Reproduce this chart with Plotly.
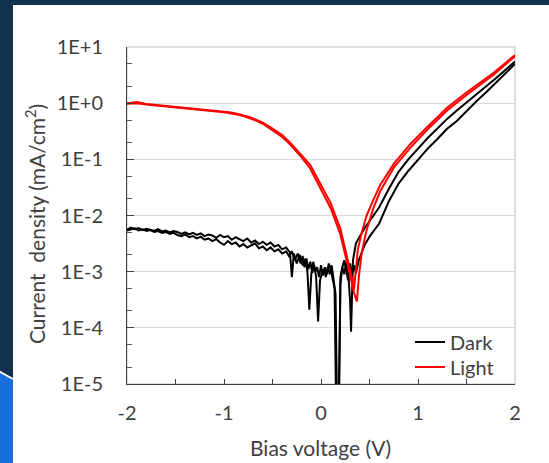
import plotly.graph_objects as go

# ---------------- data ----------------
# Dark current, sweep A
V_DARK_A = [-2.00, -1.96, -1.92, -1.88, -1.84, -1.80, -1.76, -1.72, -1.68, -1.64,
            -1.60, -1.56, -1.52, -1.48, -1.44, -1.40, -1.36, -1.32, -1.28, -1.24,
            -1.20, -1.16, -1.12, -1.08, -1.04, -1.00, -0.96, -0.92, -0.88, -0.84,
            -0.80, -0.76, -0.72, -0.68, -0.64, -0.60, -0.56, -0.52, -0.48, -0.44,
            -0.40, -0.36, -0.32,
            -0.30, -0.28, -0.25, -0.22, -0.19,
            -0.16, -0.14, -0.12, -0.10, -0.08, -0.06, -0.04, -0.02, 0.00, 0.02,
            0.04, 0.06, 0.08, 0.10, 0.12, 0.14, 0.16, 0.18, 0.20, 0.22,
            0.24, 0.26, 0.28, 0.30, 0.31, 0.33, 0.36, 0.40, 0.45, 0.50,
            0.55, 0.60, 0.70, 0.80, 0.90, 1.00, 1.10, 1.20, 1.30, 1.40,
            1.50, 1.60, 1.70, 1.80, 1.90, 2.00]
J_DARK_A = [5.6e-3, 6.1e-3, 5.7e-3, 6.0e-3, 5.5e-3, 5.8e-3, 5.6e-3, 5.3e-3, 5.7e-3, 5.2e-3,
            5.4e-3, 5.0e-3, 5.3e-3, 5.1e-3, 4.7e-3, 5.0e-3, 4.6e-3, 4.9e-3, 4.5e-3, 4.8e-3,
            4.3e-3, 4.6e-3, 4.4e-3, 4.0e-3, 4.5e-3, 4.1e-3, 4.3e-3, 3.7e-3, 4.1e-3, 3.8e-3,
            3.5e-3, 3.9e-3, 3.3e-3, 3.6e-3, 3.1e-3, 3.4e-3, 3.0e-3, 3.3e-3, 2.8e-3, 3.0e-3,
            2.5e-3, 2.7e-3, 2.2e-3,
            8.0e-4, 2.1e-3, 1.4e-3, 2.0e-3, 1.3e-3,
            1.7e-3, 1.0e-3, 2.1e-4, 9.0e-4, 1.5e-3, 1.0e-3, 1.2e-3, 8.0e-4, 1.3e-3, 8.5e-4,
            1.2e-3, 9.0e-4, 1.4e-3, 1.1e-3, 7.0e-4, 5.0e-4, 1.0e-6, 1.0e-6, 8.0e-4, 1.2e-3,
            9.0e-4, 1.5e-3, 1.0e-3, 3.0e-4, 8.5e-5, 1.6e-3, 3.2e-3, 4.3e-3, 6.0e-3, 7.9e-3,
            1.05e-2, 1.4e-2, 3.0e-2, 6.0e-2, 1.0e-1, 1.55e-1, 2.4e-1, 3.55e-1, 5.25e-1, 7.4e-1,
            1.02, 1.41, 1.95, 2.75, 3.9, 5.5]

# Dark current, sweep B
V_DARK_B = [-2.00, -1.96, -1.92, -1.88, -1.84, -1.80, -1.76, -1.72, -1.68, -1.64,
            -1.60, -1.56, -1.52, -1.48, -1.44, -1.40, -1.36, -1.32, -1.28, -1.24,
            -1.20, -1.16, -1.12, -1.08, -1.04, -1.00, -0.96, -0.92, -0.88, -0.84,
            -0.80, -0.76, -0.72, -0.68, -0.64, -0.60, -0.56, -0.52, -0.48, -0.44,
            -0.40, -0.36, -0.33,
            -0.30, -0.27, -0.24, -0.21, -0.19,
            -0.17, -0.15, -0.13, -0.11, -0.09, -0.07, -0.05, -0.03, -0.01, 0.01,
            0.03, 0.05, 0.07, 0.09, 0.11, 0.13, 0.15, 0.17, 0.18, 0.20,
            0.22, 0.24, 0.26, 0.28, 0.30, 0.32, 0.34, 0.36, 0.39, 0.42,
            0.45, 0.50, 0.55, 0.60, 0.70, 0.80, 0.90, 1.00, 1.10, 1.20,
            1.30, 1.40, 1.50, 1.60, 1.70, 1.80, 1.90, 2.00]
J_DARK_B = [5.4e-3, 5.6e-3, 5.9e-3, 5.4e-3, 5.7e-3, 5.3e-3, 5.5e-3, 5.1e-3, 5.3e-3, 4.9e-3,
            5.1e-3, 4.7e-3, 4.9e-3, 4.5e-3, 4.3e-3, 4.6e-3, 4.1e-3, 4.3e-3, 3.9e-3, 4.2e-3,
            3.7e-3, 3.9e-3, 3.5e-3, 3.8e-3, 3.3e-3, 3.0e-3, 3.5e-3, 3.1e-3, 3.3e-3, 2.8e-3,
            3.1e-3, 2.7e-3, 2.9e-3, 3.2e-3, 2.6e-3, 2.8e-3, 2.4e-3, 2.7e-3, 2.3e-3, 2.5e-3,
            2.1e-3, 2.3e-3, 1.9e-3,
            2.3e-3, 1.6e-3, 2.1e-3, 1.4e-3, 1.9e-3,
            1.2e-3, 1.7e-3, 1.1e-3, 1.5e-3, 9.5e-4, 1.3e-3, 8.0e-4, 1.3e-4, 7.0e-4, 9.5e-4,
            1.1e-3, 8.0e-4, 1.2e-3, 9.0e-4, 1.3e-3, 6.3e-4, 4.0e-4, 1.0e-6, 1.0e-6, 6.0e-4,
            1.2e-3, 1.6e-3, 1.1e-3, 7.0e-4, 1.4e-3, 9.0e-4, 1.3e-3, 9.5e-4, 1.6e-3, 2.3e-3,
            3.0e-3, 4.2e-3, 5.6e-3, 7.2e-3, 1.8e-2, 3.7e-2, 6.2e-2, 1.0e-1, 1.55e-1, 2.3e-1,
            3.5e-1, 4.8e-1, 7.2e-1, 1.07, 1.55, 2.3, 3.5, 5.0]

# Light current, sweep A
V_LIGHT_A = [-2.00, -1.90, -1.80, -1.60, -1.40, -1.20, -1.10, -1.00, -0.95, -0.90,
             -0.85, -0.80, -0.73, -0.67, -0.60, -0.52, -0.40, -0.32, -0.20, -0.11,
             0.00, 0.10, 0.20, 0.25, 0.30, 0.32, 0.34, 0.36, 0.38, 0.42,
             0.47, 0.54, 0.61, 0.75, 0.92, 1.09, 1.30, 1.50, 1.78, 2.00]
J_LIGHT_A = [1.00, 1.05, 0.97, 0.90, 0.83, 0.78, 0.745, 0.71, 0.69, 0.67,
             0.64, 0.61, 0.56, 0.51, 0.45, 0.37, 0.27, 0.20, 0.12, 0.079,
             0.035, 0.0166, 5.8e-3, 2.6e-3, 1.1e-3, 7.6e-4, 4.8e-4, 1.26e-3, 2.5e-3, 5.0e-3,
             1.0e-2, 1.9e-2, 3.5e-2, 8.3e-2, 0.186, 0.37, 0.83, 1.55, 3.47, 7.2]

# Light current, sweep B
V_LIGHT_B = [-2.00, -1.90, -1.80, -1.60, -1.40, -1.20, -1.10, -1.00, -0.95, -0.90,
             -0.85, -0.80, -0.73, -0.67, -0.60, -0.52, -0.40, -0.32, -0.20, -0.11,
             0.00, 0.10, 0.20, 0.25, 0.30, 0.34, 0.37, 0.39, 0.42, 0.47,
             0.54, 0.61, 0.75, 0.92, 1.09, 1.30, 1.50, 1.78, 2.00]
J_LIGHT_B = [0.98, 1.00, 0.95, 0.88, 0.82, 0.76, 0.725, 0.69, 0.67, 0.65,
             0.62, 0.59, 0.54, 0.49, 0.43, 0.35, 0.25, 0.185, 0.108, 0.068,
             0.029, 0.0135, 4.6e-3, 2.1e-3, 8.5e-4, 4.2e-4, 2.95e-4, 8.0e-4, 2.2e-3, 5.5e-3,
             1.35e-2, 2.7e-2, 7.1e-2, 0.16, 0.33, 0.74, 1.4, 3.2, 6.9]

Y_TICK_VALUES = [1e-5, 1e-4, 1e-3, 1e-2, 1e-1, 1e0, 1e1]
Y_TICK_LABELS = ["1E-5", "1E-4", "1E-3", "1E-2", "1E-1", "1E+0", "1E+1"]
X_TICK_VALUES = [-2, -1, 0, 1, 2]
X_TICK_LABELS = ["-2", "-1", "0", "1", "2"]

# ---------------- styling ----------------
FONT = "Lato"
TXT = "#404040"
NAVY = "#12314f"
BLUE = "#1a6edc"

fig = go.Figure()
fig.add_trace(go.Scatter(x=V_DARK_A, y=J_DARK_A, mode="lines", name="Dark",
                         legend="legend", line=dict(color="black", width=2)))
fig.add_trace(go.Scatter(x=V_DARK_B, y=J_DARK_B, mode="lines", name="Dark",
                         legend="legend", showlegend=False,
                         line=dict(color="black", width=2)))
fig.add_trace(go.Scatter(x=V_LIGHT_A, y=J_LIGHT_A, mode="lines", name="Light",
                         legend="legend2", line=dict(color="#ff0000", width=2)))
fig.add_trace(go.Scatter(x=V_LIGHT_B, y=J_LIGHT_B, mode="lines", name="Light",
                         legend="legend2", showlegend=False,
                         line=dict(color="#ff0000", width=2)))

# plot area: x 127..515 px, y 47..384 px
L, R, T, B = 127, 34, 47, 79
W, H = 549, 463
pw, ph = W - L - R, H - T - B


def px(xpix):
    return (xpix - L) / pw


def py(ypix):
    return (H - B - ypix) / ph


shapes = [
    dict(type="rect", xref="paper", yref="paper", x0=px(13), x1=px(560), y0=py(480), y1=py(5),
         fillcolor="white", line=dict(width=0), layer="below"),
    dict(type="path", xref="paper", yref="paper",
         path=f"M {px(-5)},{py(370)} L {px(13)},{py(380)} L {px(13)},{py(480)} L {px(-5)},{py(480)} Z",
         fillcolor=BLUE, line=dict(width=0), layer="below"),
    dict(type="line", xref="paper", yref="paper", x0=px(-5), y0=py(369), x1=px(13), y1=py(379),
         line=dict(color="white", width=2), layer="below"),
    dict(type="rect", xref="paper", yref="paper", x0=0, x1=1, y0=0, y1=1,
         line=dict(color="#bfbfbf", width=1), fillcolor="rgba(0,0,0,0)", layer="below"),
]

annotations = [
    dict(text="Bias voltage (V)", xref="paper", yref="paper", x=px(320), y=py(448),
         showarrow=False, xanchor="center", yanchor="middle",
         font=dict(family=FONT, size=21, color=TXT)),
    dict(text="Current\u00a0 density (mA/cm<sup>2</sup>)", xref="paper", yref="paper",
         x=px(35), y=py(224), textangle=-90, showarrow=False,
         xanchor="center", yanchor="middle",
         font=dict(family=FONT, size=21, color=TXT)),
]

legend_style = dict(xanchor="left", yanchor="middle", bgcolor="rgba(0,0,0,0)",
                    borderwidth=0, itemwidth=30,
                    font=dict(family=FONT, size=20, color=TXT))

fig.update_layout(
    width=W, height=H,
    margin=dict(l=L, r=R, t=T, b=B, pad=0),
    paper_bgcolor=NAVY,
    plot_bgcolor="white",
    shapes=shapes,
    annotations=annotations,
    font=dict(family=FONT, size=20, color=TXT),
    showlegend=True,
    legend=dict(x=px(410), y=py(342), **legend_style),
    legend2=dict(x=px(410), y=py(367), **legend_style),
    xaxis=dict(range=[-2, 2], tickvals=X_TICK_VALUES, ticktext=X_TICK_LABELS,
               ticks="inside", ticklen=5, tickcolor="#404040", showgrid=False,
               showline=True, linecolor="#404040", linewidth=1, zeroline=False,
               ticklabelstandoff=11, tickfont=dict(size=20),
               minor=dict(dtick=0.5, ticks="inside", ticklen=5, tickcolor="#404040", showgrid=False)),
    yaxis=dict(type="log", range=[-5, 1], tickvals=Y_TICK_VALUES, ticktext=Y_TICK_LABELS,
               ticks="inside", ticklen=7, tickcolor="#404040",
               showgrid=True, gridcolor="#d9d9d9", gridwidth=1,
               showline=True, linecolor="#404040", linewidth=1, zeroline=False,
               ticklabelstandoff=19, tickfont=dict(size=20),
               minor=dict(ticks="inside", ticklen=5, tickcolor="#595959", showgrid=False)),
)

fig.write_html("out.html", config={"displayModeBar": False},
               post_script="document.body.style.margin='0';document.body.style.background='#12314f';")
